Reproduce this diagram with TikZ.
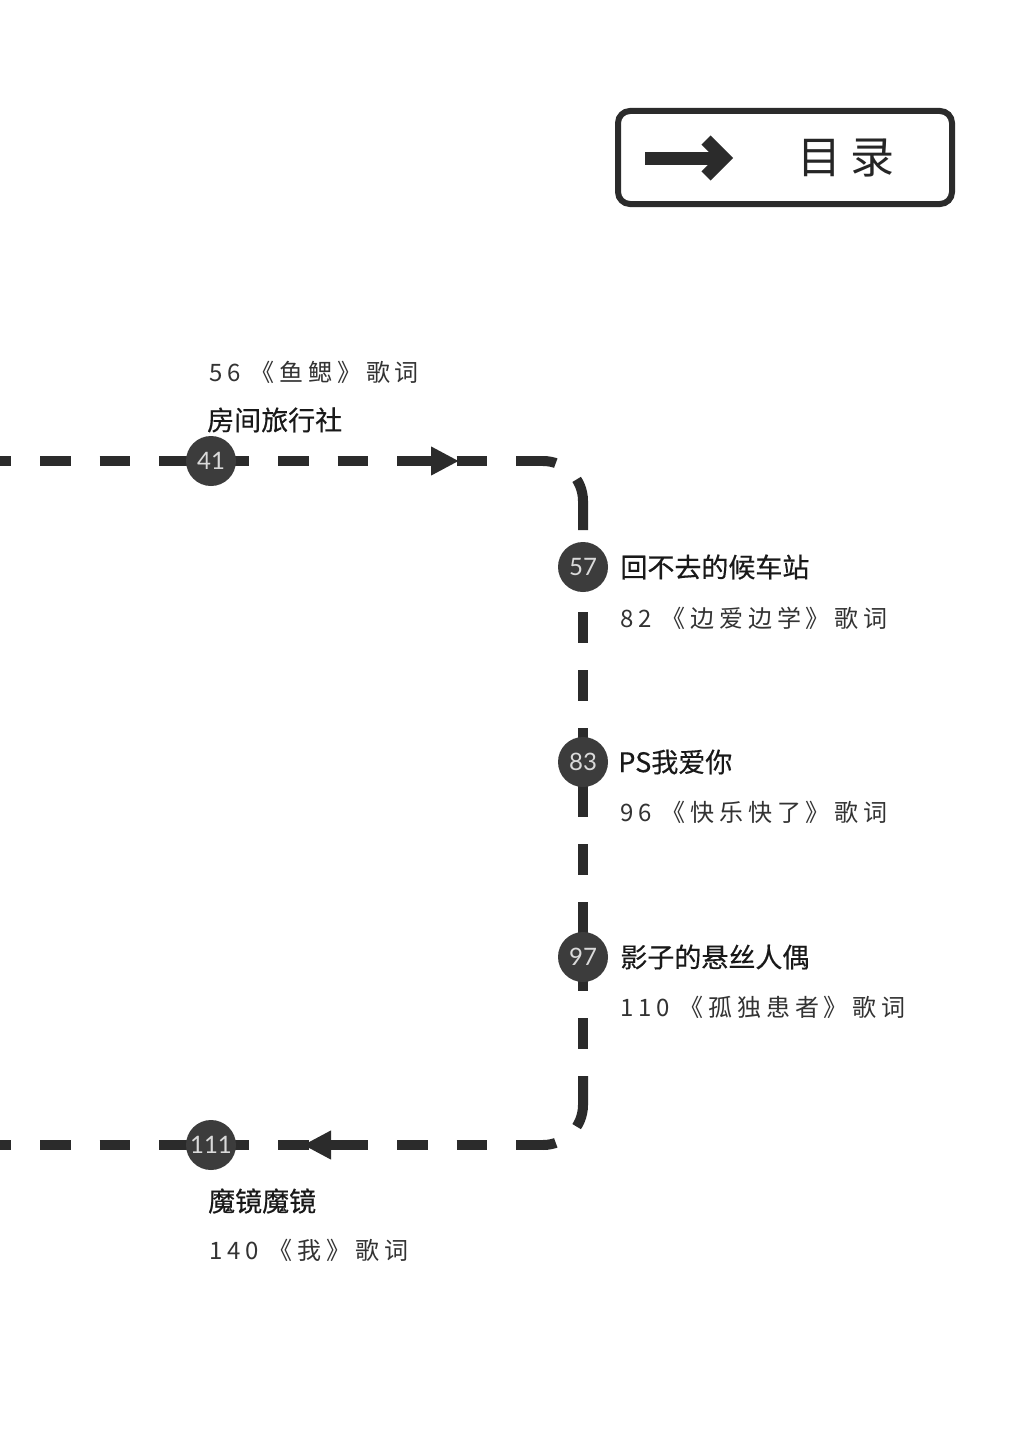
\documentclass[tikz,border=0pt]{standalone}
\usepackage{fontspec}
\usepackage{tikz}
\usetikzlibrary{arrows.meta, positioning}
\newfontfamily\cjkfont[FakeBold=0.4]{Noto Sans CJK SC}
\newfontfamily\lyricfont[LetterSpace=20]{Noto Sans CJK SC}
\newfontfamily\tocfont[LetterSpace=20]{Noto Sans CJK SC}
\newfontfamily\stopfont{Lato}
\definecolor{routegray}{HTML}{2B2B2B}
\definecolor{stopgray}{HTML}{3C3C3C}
\definecolor{numgray}{HTML}{DADADA}

\begin{document}
\begin{tikzpicture}[x=1pt, y=-1pt,
    route/.style={line width=10pt, routegray},
    stop/.style={circle, fill=stopgray, minimum size=50pt, inner sep=0pt, text=numgray,
        font=\stopfont\fontsize{24}{24}\selectfont},
    title/.style={anchor=west, inner sep=0pt, text=black!90, font=\cjkfont\fontsize{27}{30}\selectfont},
    lyric/.style={anchor=west, inner sep=0pt, text=black!80, font=\lyricfont\fontsize{24}{26}\selectfont}]
    % Page
    \fill[white] (0,0) rectangle (1024,1453);
    \useasboundingbox (0,0) rectangle (1024,1453);

    % Sign
    \draw[line width=6pt, rounded corners=12pt, routegray] (618,111) rectangle (952,204);
    \draw[line width=13pt, routegray] (645,158) -- (722,158);
    \draw[line width=13pt, line join=miter, routegray] (706,140) -- (724,158) -- (706,176);
    \node[text=black!85, font=\tocfont\fontsize{44}{48}\selectfont] (toc) at (846,158) {目录};

    % Route corners and ends
    \coordinate (wtop) at (0,461);
    \coordinate (nebend) at (543,461);
    \coordinate (ne) at (583,461);
    \coordinate (netail) at (583,530);
    \coordinate (wbot) at (0,1145);
    \coordinate (sebend) at (543,1145);
    \coordinate (se) at (583,1145);
    \coordinate (setail) at (583,1076);
    \coordinate (c41) at (211,461);
    \coordinate (c57) at (583,567);
    \coordinate (c83) at (583,762);
    \coordinate (c97) at (583,957);
    \coordinate (c111) at (211,1145);

    % Dashed route
    \draw[route, dash pattern=on 30.5pt off 29pt, dash phase=19.5pt] (wtop) -- (c41) -- (nebend);
    \draw[route, dash pattern=on 30.5pt off 29pt, dash phase=19.5pt] (wbot) -- (c111) -- (sebend);
    % corners
    \draw[route, rounded corners=40pt, dash pattern=on 13pt off 27pt on 60pt off 10pt]
        (nebend) -- (ne) -- (netail);
    \draw[route, rounded corners=40pt, dash pattern=on 13pt off 27pt on 60pt off 10pt]
        (sebend) -- (se) -- (setail);
    \draw[route, dash pattern=on 31pt off 27pt, dash phase=13pt]
        (c57) -- (c83) -- (c97) -- (setail);

    % Direction arrows
    \draw[route, -{Triangle[length=28pt, width=27pt]}] (415,461) -- (459,461);
    \draw[route, -{Triangle[length=28pt, width=27pt]}] (347,1145) -- (303,1145);

    % Stations
    \node[stop] (s41) at (c41) {41};
    \node[stop] (s57) at (c57) {57};
    \node[stop] (s83) at (c83) {83};
    \node[stop] (s97) at (c97) {97};
    \node[stop] (s111) at (c111) {111};

    % Chapters
    \node[lyric] (l56) at (209,372) {56 《鱼鳃》歌词};
    \node[title] (t41) at (207,420) {房间旅行社};

    \node[title, right=12pt of s57] (t57) {回不去的候车站};
    \node[lyric] (l82) at (620,618) {82 《边爱边学》歌词};

    \node[title, right=10pt of s83] (t83) {PS我爱你};
    \node[lyric] (l96) at (620,812) {96 《快乐快了》歌词};

    \node[title, right=12pt of s97] (t97) {影子的悬丝人偶};
    \node[lyric] (l110) at (620,1007) {110 《孤独患者》歌词};

    \node[title] (t111) at (208,1201) {魔镜魔镜};
    \node[lyric] (l140) at (209,1250) {140 《我》歌词};
\end{tikzpicture}
\end{document}
